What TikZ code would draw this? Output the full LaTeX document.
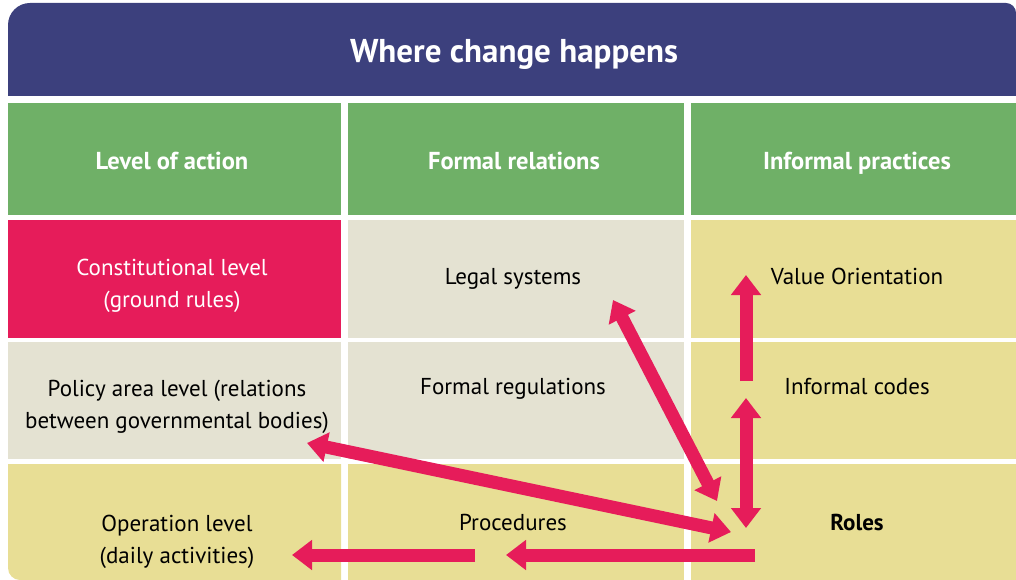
\documentclass[tikz,border=0pt]{standalone}
\usepackage{fontspec}
\setmainfont{PT Sans}
\usetikzlibrary{arrows.meta}
\definecolor{titlec}{HTML}{3C407D}
\definecolor{headc}{HTML}{6FB067}
\definecolor{pinkc}{HTML}{E61C5A}
\definecolor{greyc}{HTML}{E4E2D2}
\definecolor{yelc}{HTML}{E8DE95}
\tikzset{
  txt/.style={align=center, font=\fontsize{23}{32}\selectfont, text=black, inner sep=0pt},
  hdr/.style={align=center, font=\fontsize{24.5}{32}\selectfont\bfseries, text=white, inner sep=0pt, anchor=base},
  bigarrow/.style={pinkc, line width=13pt, -{Triangle[length=20pt,width=29pt]}},
  dblarrow/.style={pinkc, line width=13pt, {Triangle[length=20pt,width=29pt]}-{Triangle[length=20pt,width=29pt]}},
}
\begin{document}
\begin{tikzpicture}[x=1pt,y=-1pt]
\useasboundingbox (0,0) rectangle (1016,580);
\clip (0,0) rectangle (1016,580);
% title
\fill[titlec] (8,96) [rounded corners=22pt] -- (8,3) [rounded corners=10pt] -- (1016,3) [sharp corners] -- (1016,96) -- cycle;
\node[hdr, font=\fontsize{33}{36}\selectfont\bfseries] (title) at (514,63) {Where change happens};
% header row
\fill[headc] (8,103) rectangle (341,215);
\fill[headc] (348,103) rectangle (684,215);
\fill[headc] (691,103) rectangle (1016,215);
\node[hdr] (h1) at (172,169.5) {Level of action};
\node[hdr] (h2) at (514,169.5) {Formal relations};
\node[hdr] (h3) at (857,169.5) {Informal practices};
% row 1
\fill[pinkc] (8,220) rectangle (341,338);
\fill[greyc] (348,220) rectangle (684,338);
\fill[yelc] (691,220) rectangle (1016,338);
\node[txt, text=white] (c11) at (172,286) {Constitutional level\\(ground rules)};
\node[txt, anchor=base] (c12) at (513,284) {Legal systems};
\node[txt, anchor=base] (c13) at (857,284) {Value Orientation};
% row 2
\fill[greyc] (8,342) rectangle (341,459);
\fill[greyc] (348,342) rectangle (684,459);
\fill[yelc] (691,342) rectangle (1016,459);
\node[txt] (c21) at (177,407) {Policy area level (relations\\between governmental bodies)};
\node[txt, anchor=base] (c22) at (513,394) {Formal regulations};
\node[txt, anchor=base] (c23) at (857,394) {Informal codes};
% row 3
\fill[yelc] (341,464) [sharp corners] -- (341,580) [rounded corners=12pt] -- (8,580) [sharp corners] -- (8,464) -- cycle;
\fill[yelc] (348,464) rectangle (684,580);
\fill[yelc] (691,464) rectangle (1016,580);
\node[txt] (c31) at (177,542) {Operation level\\(daily activities)};
\node[txt, anchor=base] (c32) at (513,530) {Procedures};
\node[txt, anchor=base, font=\fontsize{23}{32}\selectfont\bfseries] (c33) at (857,530) {Roles};
% arrow end points
\coordinate (a1s) at (746,381); \coordinate (a1e) at (746,275);
\coordinate (a2s) at (746,398); \coordinate (a2e) at (746,528);
\coordinate (a3s) at (613,300); \coordinate (a3e) at (717,501);
\coordinate (a4s) at (307,443); \coordinate (a4e) at (731,532);
\coordinate (a5s) at (755,555); \coordinate (a5e) at (506,555);
\coordinate (a6s) at (475,555); \coordinate (a6e) at (292,555);
\draw[bigarrow] (a1s) -- (a1e);
\draw[dblarrow] (a2s) -- (a2e);
\draw[dblarrow] (a3s) -- (a3e);
\draw[dblarrow] (a4s) -- (a4e);
\draw[bigarrow] (a5s) -- (a5e);
\draw[bigarrow] (a6s) -- (a6e);
\end{tikzpicture}
\end{document}
